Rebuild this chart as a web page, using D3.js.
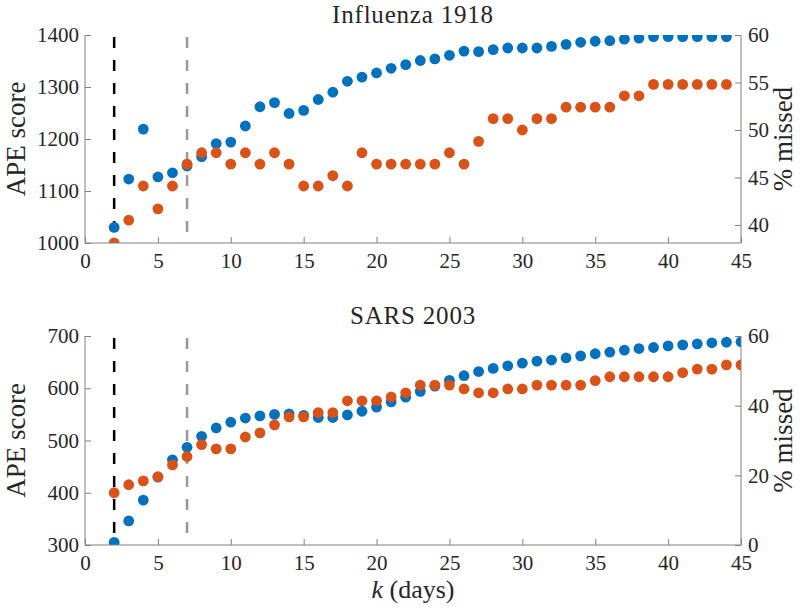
<!DOCTYPE html>
<html>
<head>
<meta charset="utf-8">
<script src="https://cdn.jsdelivr.net/npm/d3@7"></script>
<style>
  html, body { margin: 0; padding: 0; background: #fff; }
  svg { display: block; }
  svg text { font-family: "Liberation Serif", "DejaVu Serif", serif; fill: #262626; }
</style>
</head>
<body>
<script>
// ---------- DATA ----------
const kFlu = d3.range(2, 45);   // k = 2..44
const apeFlu = [1030, 1123, 1219, 1127, 1135, 1148, 1166, 1191, 1194, 1225, 1262, 1270, 1249, 1255,
  1276, 1290, 1311, 1319, 1327, 1336, 1343, 1351, 1354, 1361, 1369, 1368, 1372, 1375, 1375, 1375,
  1378, 1382, 1386, 1388, 1389, 1392, 1394, 1397, 1397, 1397, 1397, 1397, 1397];
const missedFlu = [38.1, 40.5, 44.1, 41.7, 44.1, 46.4, 47.6, 47.6, 46.4, 47.6, 46.4, 47.6, 46.4, 44.1,
  44.1, 45.2, 44.1, 47.6, 46.4, 46.4, 46.4, 46.4, 46.4, 47.6, 46.4, 48.8, 51.2, 51.2, 50.0, 51.2,
  51.2, 52.4, 52.4, 52.4, 52.4, 53.6, 53.6, 54.8, 54.8, 54.8, 54.8, 54.8, 54.8];

const kSars = d3.range(2, 46);  // k = 2..45
const apeSars = [305, 346, 386, 430, 463, 487, 508, 524, 535, 543, 547, 550, 551, 548,
  544, 544, 549, 556, 564, 574, 583, 594, 604, 615, 624, 632, 638, 643, 648, 652,
  654, 658, 662, 666, 669, 673, 676, 678, 681, 683, 685, 687, 688, 689];
const missedSars = [15.0, 17.3, 18.4, 19.6, 23.0, 25.4, 28.8, 27.6, 27.6, 31.0, 32.2, 34.5, 36.8, 36.8,
  38.0, 38.0, 41.4, 41.4, 41.4, 42.5, 43.7, 45.9, 45.9, 45.9, 44.8, 43.7, 43.7, 44.8, 44.8, 45.9,
  45.9, 45.9, 45.9, 47.2, 48.3, 48.3, 48.3, 48.3, 48.3, 49.5, 50.5, 50.5, 51.7, 51.7];

const xTicks = d3.range(0, 50, 5);
const fluLeftTicks = [1000, 1100, 1200, 1300, 1400];
const fluRightTicks = [40, 45, 50, 55, 60];
const sarsLeftTicks = [300, 400, 500, 600, 700];
const sarsRightTicks = [0, 20, 40, 60];
const vLines = [{k: 2, color: "#000000"}, {k: 7, color: "#999999"}];

const panels = [
  {title: "Influenza 1918", k: kFlu, ape: apeFlu, missed: missedFlu, top: 35, bottom: 243,
   leftDomain: [1000, 1400], rightDomain: [38.1, 60], leftTicks: fluLeftTicks, rightTicks: fluRightTicks},
  {title: "SARS 2003", k: kSars, ape: apeSars, missed: missedSars, top: 336, bottom: 545,
   leftDomain: [300, 700], rightDomain: [0, 60], leftTicks: sarsLeftTicks, rightTicks: sarsRightTicks}
];

// ---------- DRAW ----------
const FONT = '"Liberation Serif", "DejaVu Serif", serif';
const W = 800, H = 611;
const L = 85, R = 741;
const blue = "#0072BD", orange = "#D95319", axisCol = "#808080";
const svg = d3.select("body").append("svg").attr("width", W).attr("height", H);
const defs = svg.append("defs");
const x = d3.scaleLinear().domain([0, 45]).range([L, R]);

panels.forEach((p, i) => {
  const yL = d3.scaleLinear().domain(p.leftDomain).range([p.bottom, p.top]);
  const yR = d3.scaleLinear().domain(p.rightDomain).range([p.bottom, p.top]);
  const g = svg.append("g");

  const clipId = "clip" + i;
  defs.append("clipPath").attr("id", clipId)
    .append("rect").attr("x", L).attr("y", p.top).attr("width", R - L).attr("height", p.bottom - p.top);

  const plot = g.append("g").attr("clip-path", `url(#${clipId})`);

  // vertical dashed reference lines
  plot.selectAll("line.v").data(vLines).join("line")
    .attr("x1", d => x(d.k)).attr("x2", d => x(d.k))
    .attr("y1", p.top + 2).attr("y2", p.bottom)
    .attr("stroke", d => d.color).attr("stroke-width", 2.5)
    .attr("stroke-dasharray", "11,12");

  // blue points (left axis)
  plot.selectAll("circle.b").data(p.k.map((k, j) => [k, p.ape[j]])).join("circle")
    .attr("cx", d => x(d[0])).attr("cy", d => yL(d[1])).attr("r", 5.4).attr("fill", blue);
  // orange points (right axis)
  plot.selectAll("circle.o").data(p.k.map((k, j) => [k, p.missed[j]])).join("circle")
    .attr("cx", d => x(d[0])).attr("cy", d => yR(d[1])).attr("r", 5.4).attr("fill", orange);

  // axes
  const ax = g.append("g").attr("transform", `translate(0,${p.bottom})`)
    .call(d3.axisTop(x).tickValues(xTicks).tickSize(6).tickFormat(d3.format("d")));
  ax.selectAll("text").attr("dy", null).attr("y", 25);

  const al = g.append("g").attr("transform", `translate(${L},0)`)
    .call(d3.axisRight(yL).tickValues(p.leftTicks).tickSize(6).tickFormat(d3.format("d")));
  al.selectAll("text").attr("x", -6).attr("text-anchor", "end");

  const ar = g.append("g").attr("transform", `translate(${R},0)`)
    .call(d3.axisLeft(yR).tickValues(p.rightTicks).tickSize(6).tickFormat(d3.format("d")));
  ar.selectAll("text").attr("x", 7).attr("text-anchor", "start");

  [ax, al, ar].forEach(a => {
    a.attr("font-family", FONT).attr("font-size", 21);
    a.select(".domain").attr("stroke", axisCol).attr("stroke-width", 1);
    a.selectAll(".tick line").attr("stroke", axisCol);
    a.selectAll("text").attr("fill", "#262626").attr("font-family", FONT).attr("font-size", 21);
  });
  al.select(".domain").attr("d", `M0,${p.top}V${p.bottom}`);
  ar.select(".domain").attr("d", `M0,${p.top}V${p.bottom}`);
  ax.select(".domain").attr("d", `M${L},0H${R}`);

  // title
  g.append("text").attr("x", (L + R) / 2).attr("y", p.top - 12)
    .attr("text-anchor", "middle").attr("font-family", FONT).attr("font-size", 25)
    .attr("letter-spacing", 0.8).text(p.title);

  // y labels
  const cy = (p.top + p.bottom) / 2;
  g.append("text").attr("transform", `translate(25,${cy}) rotate(-90)`)
    .attr("text-anchor", "middle").attr("font-family", FONT).attr("font-size", 27).text("APE score");
  g.append("text").attr("transform", `translate(792,${cy}) rotate(-90)`)
    .attr("text-anchor", "middle").attr("font-family", FONT).attr("font-size", 27).text("% missed");
});

// x label
const xl = svg.append("text").attr("x", (L + R) / 2).attr("y", 598)
  .attr("text-anchor", "middle").attr("font-family", FONT).attr("font-size", 26);
xl.append("tspan").attr("font-style", "italic").text("k");
xl.append("tspan").text(" (days)");
</script>
</body>
</html>
